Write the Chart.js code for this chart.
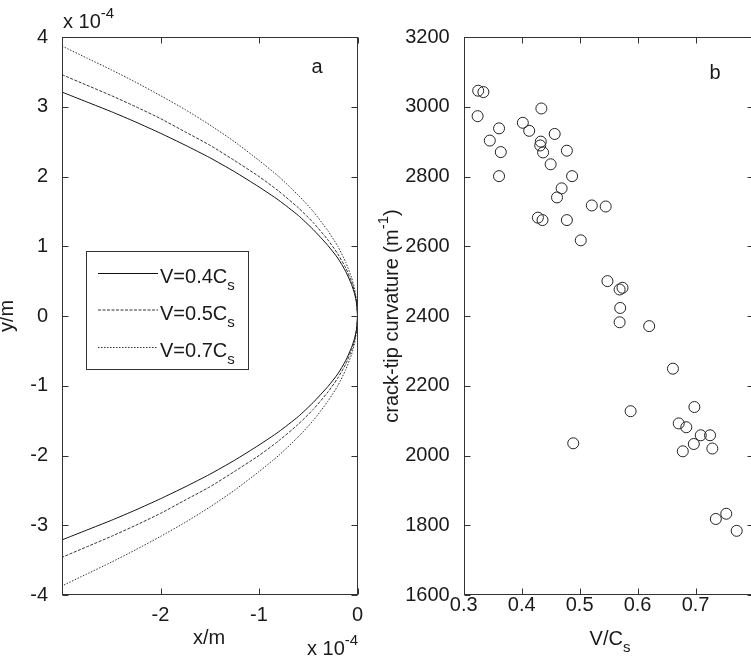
<!DOCTYPE html>
<html><head><meta charset="utf-8">
<script src="https://cdn.jsdelivr.net/npm/chart.js@4.4.0/dist/chart.umd.min.js"></script>
<style>
html,body{margin:0;padding:0;background:#fff;overflow:hidden;width:751px;height:657px;}
#c1{position:absolute;left:0;top:0;}
#c2{position:absolute;left:370px;top:0;}
</style></head><body>
<canvas id="c1" width="370" height="657"></canvas>
<canvas id="c2" width="390" height="657"></canvas>
<script>
const FONT = '"Liberation Sans", Arial, Helvetica, sans-serif';
const TXT = '#1a1a1a';
const AXIS = '#333333';

// ---- Panel a : crack profiles (values in units of 1e-4 m) ----
const xSamples = [-3,-2.75,-2.5,-2.25,-2,-1.75,-1.5,-1.25,-1,-0.8,-0.6,-0.45,-0.3,-0.2,-0.12,-0.06,-0.03,-0.01,0];
const yUpper04 = [3.21,3.07,2.93,2.78,2.62,2.45,2.27,2.07,1.85,1.66,1.44,1.24,1.01,0.83,0.64,0.45,0.32,0.19,0];
const yLower04 = [-3.21,-3.07,-2.93,-2.78,-2.62,-2.45,-2.27,-2.07,-1.85,-1.66,-1.44,-1.24,-1.01,-0.83,-0.64,-0.45,-0.32,-0.19,0];
const yUpper05 = [3.46,3.31,3.16,3.00,2.83,2.64,2.45,2.23,2.00,1.79,1.55,1.34,1.09,0.89,0.69,0.49,0.35,0.20,0];
const yLower05 = [-3.46,-3.31,-3.16,-3.00,-2.83,-2.64,-2.45,-2.23,-2.00,-1.79,-1.55,-1.34,-1.09,-0.89,-0.69,-0.49,-0.35,-0.20,0];
const yUpper07 = [3.87,3.70,3.53,3.35,3.16,2.96,2.74,2.50,2.23,2.00,1.73,1.50,1.22,1.00,0.77,0.55,0.39,0.22,0];
const yLower07 = [-3.87,-3.70,-3.53,-3.35,-3.16,-2.96,-2.74,-2.50,-2.23,-2.00,-1.73,-1.50,-1.22,-1.00,-0.77,-0.55,-0.39,-0.22,0];
const seriesNames = ['V=0.4C', 'V=0.5C', 'V=0.7C'];
const xTicksA = [-2, -1, 0];
const yTicksA = [-4, -3, -2, -1, 0, 1, 2, 3, 4];

// ---- Panel b : crack-tip curvature vs V/Cs ----
const vOverCs = [0.325,0.334,0.324,0.345,0.361,0.364,0.361,0.402,0.413,0.434,0.433,0.432,0.437,0.457,0.478,0.450,0.487,0.469,0.461,0.521,0.545,0.428,0.436,0.478,0.502,0.548,0.569,0.574,0.570,0.569,0.620,0.661,0.588,0.698,0.671,0.684,0.709,0.725,0.697,0.678,0.729,0.489,0.735,0.753,0.771];
const curvature = [3046,3042,2973,2903,2938,2870,2801,2954,2931,2995,2900,2889,2869,2922,2874,2835,2801,2766,2740,2717,2714,2682,2675,2675,2617,2500,2476,2481,2423,2382,2371,2249,2127,2139,2092,2081,2058,2058,2033,2012,2020,2035,1818,1833,1784];
const xTicksB = [0.3, 0.4, 0.5, 0.6, 0.7, 0.8];
const xLabelsB = [0.3, 0.4, 0.5, 0.6, 0.7];
const yTicksB = [1600, 1800, 2000, 2200, 2400, 2600, 2800, 3000, 3200];

function profile(up, low) {
  const pts = xSamples.map((x, i) => ({x: x, y: up[i]}));
  for (let i = xSamples.length - 2; i >= 0; i--) pts.push({x: xSamples[i], y: low[i]});
  return pts;
}

function rich(ctx, parts, x, y, align) {
  let w = 0;
  parts.forEach(p => { ctx.font = p.size + 'px ' + FONT; p.w = ctx.measureText(p.t).width; w += p.w; });
  let cx = align === 'center' ? x - w / 2 : (align === 'right' ? x - w : x);
  ctx.textAlign = 'left'; ctx.textBaseline = 'alphabetic';
  parts.forEach(p => { ctx.font = p.size + 'px ' + FONT; ctx.fillText(p.t, cx, y + (p.dy || 0)); cx += p.w; });
}

function frameTicks(chart, xt, yt) {
  const {ctx, chartArea: a, scales: {x, y}} = chart;
  const L = 6;
  ctx.save();
  ctx.strokeStyle = AXIS; ctx.lineWidth = 1;
  const l = Math.round(a.left) + 0.5, r = Math.round(a.right) - 0.5, t = Math.round(a.top) + 0.5, b = Math.round(a.bottom) - 0.5;
  ctx.strokeRect(l, t, r - l, b - t);
  ctx.beginPath();
  xt.forEach(v => {
    const px = Math.round(x.getPixelForValue(v)) + 0.5;
    ctx.moveTo(px, b); ctx.lineTo(px, b - L);
    ctx.moveTo(px, t); ctx.lineTo(px, t + L);
  });
  yt.forEach(v => {
    const py = Math.round(y.getPixelForValue(v)) + 0.5;
    ctx.moveTo(l, py); ctx.lineTo(l + L, py);
    ctx.moveTo(r, py); ctx.lineTo(r - L, py);
  });
  ctx.stroke();
  ctx.restore();
}

const decorA = {
  id: 'decorA',
  afterDraw(chart) {
    const ctx = chart.ctx;
    frameTicks(chart, xTicksA, yTicksA);
    ctx.save();
    ctx.fillStyle = TXT;
    rich(ctx, [{t: 'a', size: 20}], 317, 73, 'center');
    rich(ctx, [{t: 'x 10', size: 20}, {t: '-4', size: 15, dy: -10}], 63, 28, 'left');
    rich(ctx, [{t: 'x 10', size: 20}, {t: '-4', size: 15, dy: -10}], 307, 655, 'left');
    rich(ctx, [{t: 'x/m', size: 20}], 209, 644, 'center');
    ctx.save(); ctx.translate(13, 316); ctx.rotate(-Math.PI / 2);
    rich(ctx, [{t: 'y/m', size: 20}], 0, 0, 'center');
    ctx.restore();
    // legend
    ctx.strokeStyle = AXIS; ctx.lineWidth = 1;
    ctx.strokeRect(86.5, 251.5, 162, 118);
    const ly = [273, 309.5, 347], ty = [283, 320, 357];
    const dashes = [[], [3, 1.5], [1.5, 1.5]], cols = ['#111', '#333', '#333'];
    for (let i = 0; i < 3; i++) {
      ctx.save();
      ctx.strokeStyle = cols[i]; ctx.setLineDash(dashes[i]);
      ctx.beginPath(); ctx.moveTo(98, ly[i] + 0.5); ctx.lineTo(158, ly[i] + 0.5); ctx.stroke();
      ctx.restore();
      rich(ctx, [{t: seriesNames[i], size: 20}, {t: 's', size: 15, dy: 7}], 160, ty[i], 'left');
    }
    ctx.restore();
  }
};

const decorB = {
  id: 'decorB',
  afterDraw(chart) {
    const ctx = chart.ctx;
    frameTicks(chart, xTicksB, yTicksB);
    ctx.save();
    ctx.fillStyle = TXT;
    rich(ctx, [{t: 'b', size: 20}], 345, 79, 'center');
    rich(ctx, [{t: 'V/C', size: 20}, {t: 's', size: 15, dy: 7}], 240, 645, 'center');
    ctx.save(); ctx.translate(28, 316); ctx.rotate(-Math.PI / 2);
    rich(ctx, [{t: 'crack-tip curvature (m', size: 20}, {t: '-1', size: 15, dy: -10}, {t: ')', size: 20}], 0, 0, 'center');
    ctx.restore();
    ctx.restore();
  }
};

const tickFont = {family: FONT, size: 20};

new Chart(document.getElementById('c1'), {
  type: 'scatter',
  data: {
    datasets: [
      {data: profile(yUpper04, yLower04), showLine: true, borderColor: '#111', borderWidth: 1, pointRadius: 0, tension: 0.2},
      {data: profile(yUpper05, yLower05), showLine: true, borderColor: '#333', borderWidth: 1, borderDash: [3, 1.5], pointRadius: 0, tension: 0.2},
      {data: profile(yUpper07, yLower07), showLine: true, borderColor: '#333', borderWidth: 1, borderDash: [1.5, 1.5], pointRadius: 0, tension: 0.2}
    ]
  },
  options: {
    responsive: false, animation: false, devicePixelRatio: 1,
    layout: {padding: {top: 37, right: 12.5, left: 0, bottom: 0}},
    plugins: {legend: {display: false}, tooltip: {enabled: false}},
    scales: {
      x: {
        type: 'linear', min: -3, max: 0,
        grid: {display: false}, border: {display: false},
        afterBuildTicks: s => { s.ticks = xTicksA.map(v => ({value: v})); },
        afterFit: s => { s.height = 62; },
        ticks: {font: tickFont, color: TXT, padding: 0, maxRotation: 0, callback: v => String(v)}
      },
      y: {
        type: 'linear', min: -4, max: 4,
        grid: {display: false}, border: {display: false},
        afterBuildTicks: s => { s.ticks = yTicksA.map(v => ({value: v})); },
        afterFit: s => { s.width = 62; },
        ticks: {font: tickFont, color: TXT, padding: 6, callback: v => String(v)}
      }
    }
  },
  plugins: [decorA]
});

new Chart(document.getElementById('c2'), {
  type: 'scatter',
  data: {
    datasets: [
      {data: vOverCs.map((v, i) => ({x: v, y: curvature[i]})), pointRadius: 5.5, pointBorderWidth: 1,
       pointBorderColor: '#222', pointBackgroundColor: 'rgba(0,0,0,0)', showLine: false}
    ]
  },
  options: {
    responsive: false, animation: false, devicePixelRatio: 1,
    layout: {padding: {top: 37, right: 2.1, left: 0, bottom: 0}},
    plugins: {legend: {display: false}, tooltip: {enabled: false}},
    scales: {
      x: {
        type: 'linear', min: 0.3, max: 0.8,
        grid: {display: false}, border: {display: false},
        afterBuildTicks: s => { s.ticks = xLabelsB.map(v => ({value: v})); },
        afterFit: s => { s.height = 62; },
        ticks: {font: tickFont, color: TXT, padding: -10, maxRotation: 0, callback: v => String(v)}
      },
      y: {
        type: 'linear', min: 1600, max: 3200,
        grid: {display: false}, border: {display: false},
        afterBuildTicks: s => { s.ticks = yTicksB.map(v => ({value: v})); },
        afterFit: s => { s.width = 93.7; },
        ticks: {font: tickFont, color: TXT, padding: 6, callback: v => String(v)}
      }
    }
  },
  plugins: [decorB]
});
</script>
</body></html>
